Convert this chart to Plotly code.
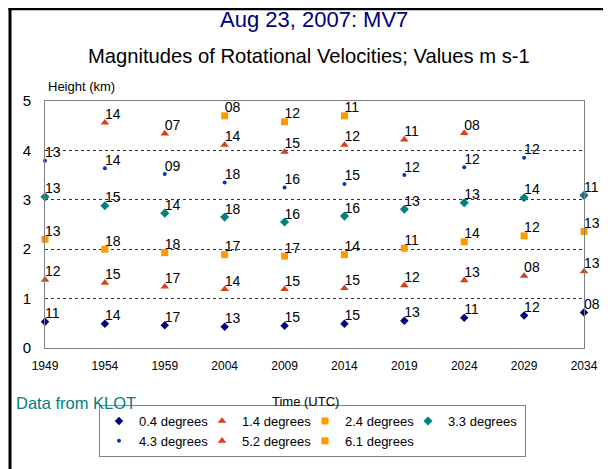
import plotly.graph_objects as go

times = ["1949", "1954", "1959", "2004", "2009", "2014", "2019", "2024", "2029", "2034"]

h_04 = [0.53, 0.49, 0.46, 0.43, 0.45, 0.49, 0.55, 0.61, 0.66, 0.72]
v_04 = ["11", "14", "17", "13", "15", "15", "13", "11", "12", "08"]

h_14 = [1.38, 1.32, 1.24, 1.19, 1.19, 1.21, 1.27, 1.37, 1.46, 1.55]
v_14 = ["12", "15", "17", "14", "15", "15", "12", "13", "08", "13"]

h_24 = [2.20, 2.00, 1.93, 1.89, 1.86, 1.89, 2.02, 2.15, 2.27, 2.36]
v_24 = ["13", "18", "18", "17", "17", "14", "11", "14", "12", "13"]

h_33 = [3.06, 2.88, 2.73, 2.65, 2.55, 2.67, 2.81, 2.94, 3.04, 3.09]
v_33 = ["13", "15", "14", "18", "16", "16", "13", "13", "14", "11"]

h_43 = [3.79, 3.64, 3.52, 3.35, 3.25, 3.32, 3.50, 3.66, 3.85, None]
v_43 = ["13", "14", "09", "18", "16", "15", "12", "12", "12", ""]

h_52 = [None, 4.56, 4.34, 4.11, 3.97, 4.11, 4.22, 4.35, None, None]
v_52 = ["", "14", "07", "14", "15", "12", "11", "08", "", ""]

h_61 = [None, None, None, 4.70, 4.58, 4.70, None, None, None, None]
v_61 = ["", "", "", "08", "12", "11", "", "", "", ""]

# name, heights, labels, symbol, colour, size, legend column group, legend entry width
series = [
    ("0.4 degrees", h_04, v_04, "diamond", "#000080", 6.5, "c1", 58),
    ("1.4 degrees", h_14, v_14, "triangle-up", "#D8401A", 7.5, "c2", 58),
    ("2.4 degrees", h_24, v_24, "square", "#FF9900", 7, "c3", 58),
    ("3.3 degrees", h_33, v_33, "diamond", "#008080", 7, "c4", 72),
    ("4.3 degrees", h_43, v_43, "circle", "#0033CC", 4, "c1", 58),
    ("5.2 degrees", h_52, v_52, "triangle-up", "#D8401A", 7.5, "c2", 58),
    ("6.1 degrees", h_61, v_61, "square", "#FF9900", 7, "c3", 58),
]

FONT = "Liberation Sans, Arial, sans-serif"

fig = go.Figure()
for name, ys, labels, sym, col, size, grp, lw in series:
    fig.add_trace(go.Scatter(
        x=times, y=ys, name=name, mode="markers",
        marker=dict(symbol=sym, color=col, size=size, line=dict(width=0)),
        cliponaxis=False, legendgroup=grp, legendwidth=lw,
    ))
# value labels, drawn next to each point
for name, ys, labels, sym, col, size, grp, lw in series:
    fig.add_trace(go.Scatter(
        x=times, y=ys, mode="text", text=labels, textposition="top right",
        textfont=dict(family=FONT, size=14, color="#000000"),
        cliponaxis=False, showlegend=False, hoverinfo="skip",
    ))

# page body adds an 8px offset; screen coordinates are converted below
OFF = 8
W, H = 611 - OFF, 469 - OFF
L, R, T, B = 45 - OFF, 27, 101 - OFF, 121
pw, ph = W - L - R, H - T - B

def px(x):
    return (x - OFF - L) / pw

def py(y):
    return (H - B - (y - OFF)) / ph

fig.update_layout(
    width=W, height=H,
    margin=dict(l=L, r=R, t=T, b=B, pad=0, autoexpand=False),
    paper_bgcolor="white", plot_bgcolor="white",
    font=dict(family=FONT, color="#000000"),
    showlegend=True,
    legend=dict(
        orientation="h", traceorder="grouped", tracegroupgap=0,
        x=px(99), xanchor="left", y=py(405), yanchor="top",
        bordercolor="#808080", borderwidth=1,
        font=dict(family=FONT, size=13, color="#000000"),
        itemwidth=30,
    ),
    xaxis=dict(
        type="category", range=[0, 9],
        showgrid=False, zeroline=False,
        showline=True, linecolor="#808080", linewidth=1, mirror=True,
        ticks="", tickfont=dict(family=FONT, size=12, color="#000000"),
        ticklabelstandoff=7,
    ),
    yaxis=dict(
        range=[0, 5], tickvals=[0, 1, 2, 3, 4, 5],
        showgrid=True, gridcolor="#333333", griddash="3px,3px", gridwidth=1,
        zeroline=False,
        showline=True, linecolor="#808080", linewidth=1, mirror=True,
        ticks="", tickfont=dict(family=FONT, size=15, color="#000000"),
        ticklabelstandoff=10,
    ),
    annotations=[
        dict(text="Aug 23, 2007: MV7", x=px(314), y=py(20), xref="paper", yref="paper",
             showarrow=False, xanchor="center", yanchor="middle",
             font=dict(family=FONT, size=22, color="#000080")),
        dict(text="Magnitudes of Rotational Velocities; Values m s-1", x=px(309), y=py(56),
             xref="paper", yref="paper", showarrow=False, xanchor="center", yanchor="middle",
             font=dict(family=FONT, size=20.2, color="#000000")),
        dict(text="Height (km)", x=px(46), y=py(87), xref="paper", yref="paper",
             showarrow=False, xanchor="left", yanchor="middle",
             font=dict(family=FONT, size=13, color="#000000")),
        dict(text="Time (UTC)", x=px(305), y=py(401), xref="paper", yref="paper",
             showarrow=False, xanchor="center", yanchor="middle",
             font=dict(family=FONT, size=13, color="#000000")),
        dict(text="Data from KLOT", x=px(14), y=py(403), xref="paper", yref="paper",
             showarrow=False, xanchor="left", yanchor="middle",
             font=dict(family=FONT, size=16.5, color="#008080")),
    ],
    shapes=[
        dict(type="line", xref="paper", yref="paper", x0=px(10), x1=px(10), y0=py(7.5), y1=py(480),
             line=dict(color="#000000", width=3)),
        dict(type="line", xref="paper", yref="paper", x0=px(8.5), x1=px(620), y0=py(8.7), y1=py(8.7),
             line=dict(color="#000000", width=3)),
    ],
)

fig.write_html("out.html")
